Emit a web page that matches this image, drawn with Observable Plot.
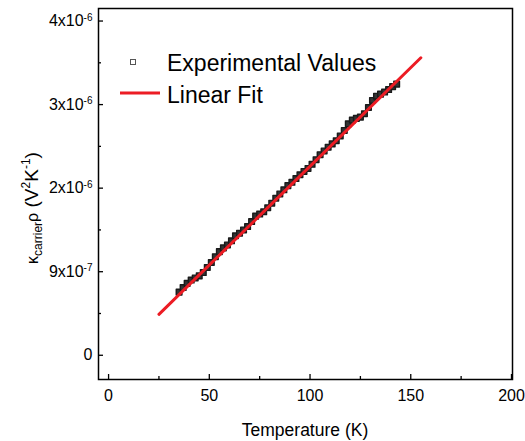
<!DOCTYPE html>
<html><head><meta charset="utf-8">
<script src="https://cdn.jsdelivr.net/npm/d3@7"></script>
<script src="https://cdn.jsdelivr.net/npm/@observablehq/plot@0.6"></script>
<style>
body{margin:0;background:#fff}
svg{font-family:"Liberation Sans",Arial,sans-serif}
</style>
</head><body><div id="chart"></div>
<script>
// Experimental values: temperature (K) and kappa_carrier*rho (units of 1e-6 V^2 K^-1)
const temperature = [35,37,39,41,43,45,47,49,51,53,55,57,59,61,63,65,67,69,71,73,75,77,79,81,83,85,87,89,91,93,95,97,99,101,103,105,107,109,111,113,115,117,119,121,123,125,127,129,131,133,135,137,139,141,143];
const kappaRho = [0.756,0.81,0.86,0.90,0.925,0.95,0.99,1.05,1.11,1.18,1.24,1.285,1.32,1.37,1.43,1.46,1.50,1.54,1.60,1.665,1.69,1.717,1.765,1.82,1.88,1.93,1.98,2.03,2.07,2.115,2.16,2.20,2.236,2.285,2.34,2.40,2.445,2.49,2.53,2.567,2.625,2.69,2.77,2.815,2.835,2.85,2.89,2.965,3.05,3.10,3.125,3.15,3.18,3.215,3.245];
// Linear fit end points
const fitT = [25,155];
const fitK = [0.49,3.56];
// Axis ticks
const xTicks = [0,50,100,150,200];
const xMinor = [25,75,125,175];
const yTicks = [0,1,2,3,4];
const yTickLabels = ["0","9x10^-7","2x10^-6","3x10^-6","4x10^-6"];
const yMinor = [0.5,1.5,2.5,3.5];

const data = temperature.map((t,i)=>({t, k:kappaRho[i]}));
const fit = fitT.map((t,i)=>({t, k:fitK[i]}));

const plot = Plot.plot({
  width:525, height:441,
  marginLeft:98, marginRight:13, marginTop:8, marginBottom:62,
  style:{fontFamily:"Liberation Sans, Arial, sans-serif", fontSize:"16px", color:"#000", background:"#fff", overflow:"visible"},
  x:{domain:[-5,200.5]},
  y:{domain:[-0.29,4.15]},
  marks:[
    Plot.axisX({ticks:xMinor, tickSize:-3, tickFormat:()=>"", label:null, strokeWidth:1.3}),
    Plot.axisX({ticks:xTicks, tickSize:-5, tickPadding:15, tickFormat:d=>String(d), label:null, strokeWidth:1.3}),
    Plot.axisY({ticks:yMinor, tickSize:-3, tickFormat:()=>"", label:null, strokeWidth:1.3}),
    Plot.axisY({ticks:yTicks, tickSize:-5, tickPadding:11, tickFormat:d=>yTickLabels[yTicks.indexOf(d)], label:null, strokeWidth:1.3}),
    Plot.dot(data, {x:"t", y:"k", symbol:"square", r:3.2, stroke:"#1a1a1a", fill:"#333", strokeWidth:1.4, strokeLinejoin:"round"}),
    Plot.line(fit, {x:"t", y:"k", stroke:"#ec1c24", strokeWidth:3}),
    Plot.frame({stroke:"#000", strokeWidth:1.5})
  ]
});
document.getElementById("chart").appendChild(plot);

const svg = d3.select(plot);
// superscript exponents in y tick labels
svg.selectAll('g[aria-label="y-axis tick label"] text').each(function(){
  const el = d3.select(this);
  const s = el.text();
  if (s.includes("^")) {
    const [base, exp] = s.split("^");
    el.text(base);
    el.append("tspan").attr("dy","-0.55em").attr("font-size","10px").text(exp);
  }
});

// y-axis label
const yl = svg.append("text")
  .attr("transform","translate(38,208) rotate(-90)")
  .attr("text-anchor","middle")
  .attr("font-size","19px")
  .attr("fill","#000");
yl.append("tspan").attr("font-size","16px").text("κ");
yl.append("tspan").attr("font-size","12px").attr("dy","4").text("carrier");
yl.append("tspan").attr("font-size","16px").attr("dy","-4").text("ρ");
yl.append("tspan").text(" (V");
yl.append("tspan").attr("font-size","12px").attr("dy","-8").text("2");
yl.append("tspan").attr("dy","8").text("K");
yl.append("tspan").attr("font-size","12px").attr("dy","-8").text("-1");
yl.append("tspan").attr("dy","8").text(")");

// x-axis label
svg.append("text").attr("x",305).attr("y",436).attr("text-anchor","middle")
  .attr("font-size","17.5px").attr("fill","#000").text("Temperature (K)");

// legend
const lg = svg.append("g").attr("text-anchor","start");
lg.append("rect").attr("x",130.5).attr("y",59.5).attr("width",5).attr("height",5)
  .attr("fill","none").attr("stroke","#555").attr("stroke-width",1);
lg.append("text").attr("x",167).attr("y",71).attr("font-size","23px").attr("fill","#000").text("Experimental Values");
lg.append("line").attr("x1",120).attr("x2",160).attr("y1",93).attr("y2",93)
  .attr("stroke","#ec1c24").attr("stroke-width",3);
lg.append("text").attr("x",167).attr("y",103).attr("font-size","23px").attr("fill","#000").text("Linear Fit");
</script>
</body></html>
